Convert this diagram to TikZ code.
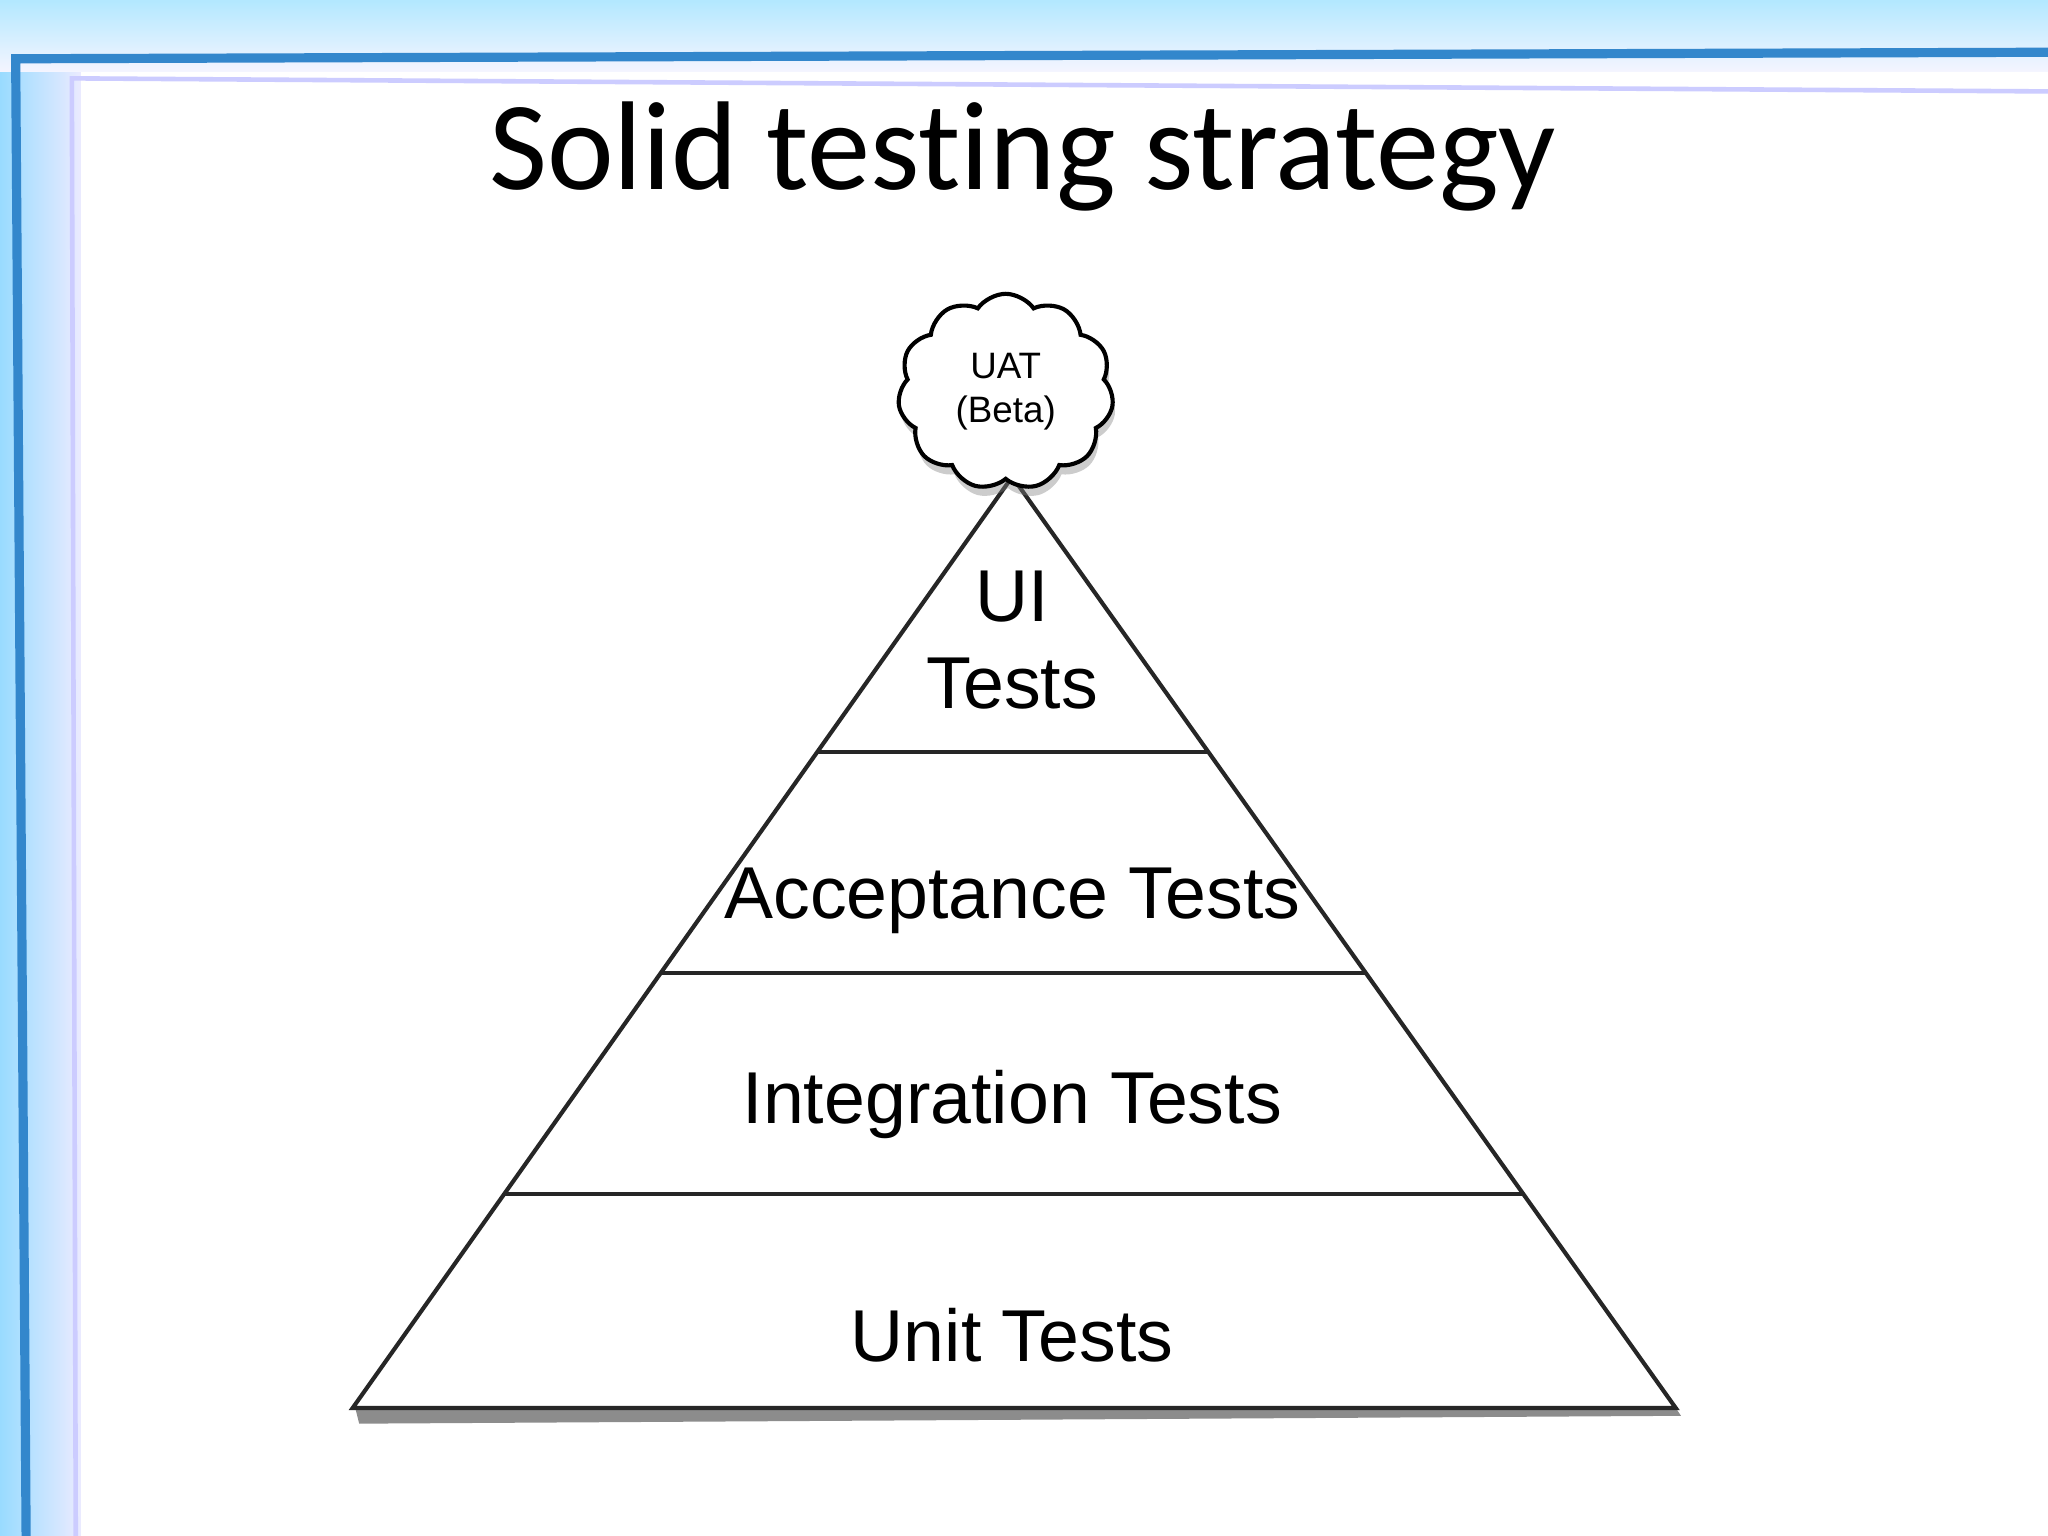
\documentclass[tikz,border=0pt]{standalone}
\usepackage{fontspec}
\setmainfont{Liberation Sans}
\newfontfamily\titlefont[Ligatures=NoCommon]{Carlito}
\usetikzlibrary{shapes.symbols,shadows,calc}
\begin{document}
\begin{tikzpicture}[x=0.01cm,y=-0.01cm,
  layer/.style={font=\fontsize{16}{19}\selectfont},
  edge/.style={line width=0.9pt,black!85}]
\useasboundingbox (0,0) rectangle (1568,1176);
\fill[white] (0,0) rectangle (1568,1176);
% frame
\shade[left color=blue!35!cyan!40!white,right color=blue!8!white] (0,30) rectangle (62,1176);
\shade[top color=blue!30!cyan!30!white,bottom color=blue!4!white] (0,0) rectangle (1568,55);
\draw[blue!45!cyan!60!gray,line width=2pt] (20,1176) -- (12,45) -- (1568,40);
\draw[blue!20,line width=1pt] (58,1176) -- (55,60) -- (1568,70);
\node[font=\titlefont\fontsize{27.5}{32}\selectfont] (title) at (783,120) {Solid testing strategy};
% pyramid
\coordinate (apex) at (775,365);
\coordinate (bl) at (270,1078);
\coordinate (br) at (1283,1078);
\fill[black!45] (272,1078) -- (1283,1078) -- (1287,1084) -- (275,1090) -- cycle;
\fill[white] (apex) -- (bl) -- (br) -- cycle;
\draw[edge] (apex) -- (bl) -- (br) -- cycle;
\coordinate (l1) at ($(apex)!0.296!(bl)$); \coordinate (r1) at ($(apex)!0.296!(br)$);
\coordinate (l2) at ($(apex)!0.533!(bl)$); \coordinate (r2) at ($(apex)!0.533!(br)$);
\coordinate (l3) at ($(apex)!0.770!(bl)$); \coordinate (r3) at ($(apex)!0.770!(br)$);
\draw[edge] (l1) -- (r1);
\draw[edge] (l2) -- (r2);
\draw[edge] (l3) -- (r3);
\node[layer,align=center] (ui) at (775,490) {UI\\Tests};
\node[layer] (acc) at (775,690) {Acceptance Tests};
\node[layer] (int) at (775,846) {Integration Tests};
\node[layer] (unit) at (775,1022) {Unit Tests};
% cloud
\node[cloud,cloud puffs=11,cloud puff arc=110,aspect=1.1,draw,line width=0.9pt,fill=white,
  drop shadow={shadow xshift=0.5pt,shadow yshift=-2pt,opacity=0.4},
  minimum width=1.65cm,minimum height=1.5cm,inner sep=0pt] (uat) at (770,300) {};
\node[align=center,font=\fontsize{8}{9.5}\selectfont] (uatt) at (770,300) {UAT\\(Beta)};
\end{tikzpicture}
\end{document}
